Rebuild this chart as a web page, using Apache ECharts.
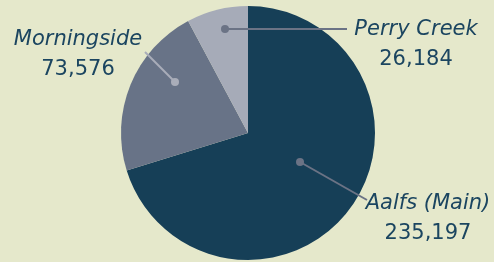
<!DOCTYPE html>
<html><head><meta charset="utf-8">
<script src="https://cdn.jsdelivr.net/npm/echarts@6/dist/echarts.min.js"></script>
<style>html,body{margin:0;padding:0;background:#e5e8cb}#c{width:494px;height:262px}</style>
</head><body><div id="c"></div>
<script>
const categories = ['Aalfs (Main)', 'Morningside', 'Perry Creek'];
const values = [235197, 73576, 26184];
const colors = ['#163f57', '#687387', '#a6abb8'];
const lineColors = ['#6b7385', '#a9adb9', '#6b7385'];

// label placement (label centre, line start/end)
const labelPos = [
  {x: 428, y: 219, line: [[300,162],[367,200]]},
  {x: 78, y: 55, line: [[175,82],[145,52]]},
  {x: 416, y: 45, line: [[225,29],[347,29]]}
];

const fmt = v => v.toLocaleString('en-US');
const chart = echarts.init(document.getElementById('c'), null, {renderer: 'canvas'});
const graphics = [];
labelPos.forEach((l, i) => {
  graphics.push({type: 'line', shape: {x1: l.line[0][0], y1: l.line[0][1], x2: l.line[1][0], y2: l.line[1][1]},
    style: {stroke: lineColors[i], lineWidth: 2}, z: 100});
  graphics.push({type: 'circle', shape: {cx: l.line[0][0], cy: l.line[0][1], r: 4},
    style: {fill: lineColors[i]}, z: 101});
});
chart.setOption({
  backgroundColor: '#e5e8cb',
  animation: false,
  series: [{
    type: 'pie',
    center: [248, 133],
    radius: [0, 127],
    startAngle: 90,
    clockwise: true,
    data: categories.map((c, i) => ({
      name: c, value: values[i],
      itemStyle: {color: colors[i]}
    })),
    label: {
      show: true,
      overflow: 'none',
      formatter: p => '{n|' + p.name + '}\n{v|' + fmt(p.value) + '}',
      align: 'center',
      rich: {
        n: {fontFamily: 'DejaVu Sans', fontStyle: 'italic', fontSize: 21, color: '#1b4560', lineHeight: 30, align: 'center'},
        v: {fontFamily: 'DejaVu Sans', fontSize: 21, color: '#1b4560', lineHeight: 30, align: 'center'}
      }
    },
    labelLine: {show: false},
    labelLayout: p => {
      const l = labelPos[p.dataIndex];
      return {x: l.x, y: l.y, align: 'center', verticalAlign: 'middle'};
    }
  }],
  graphic: graphics
});
</script></body></html>
